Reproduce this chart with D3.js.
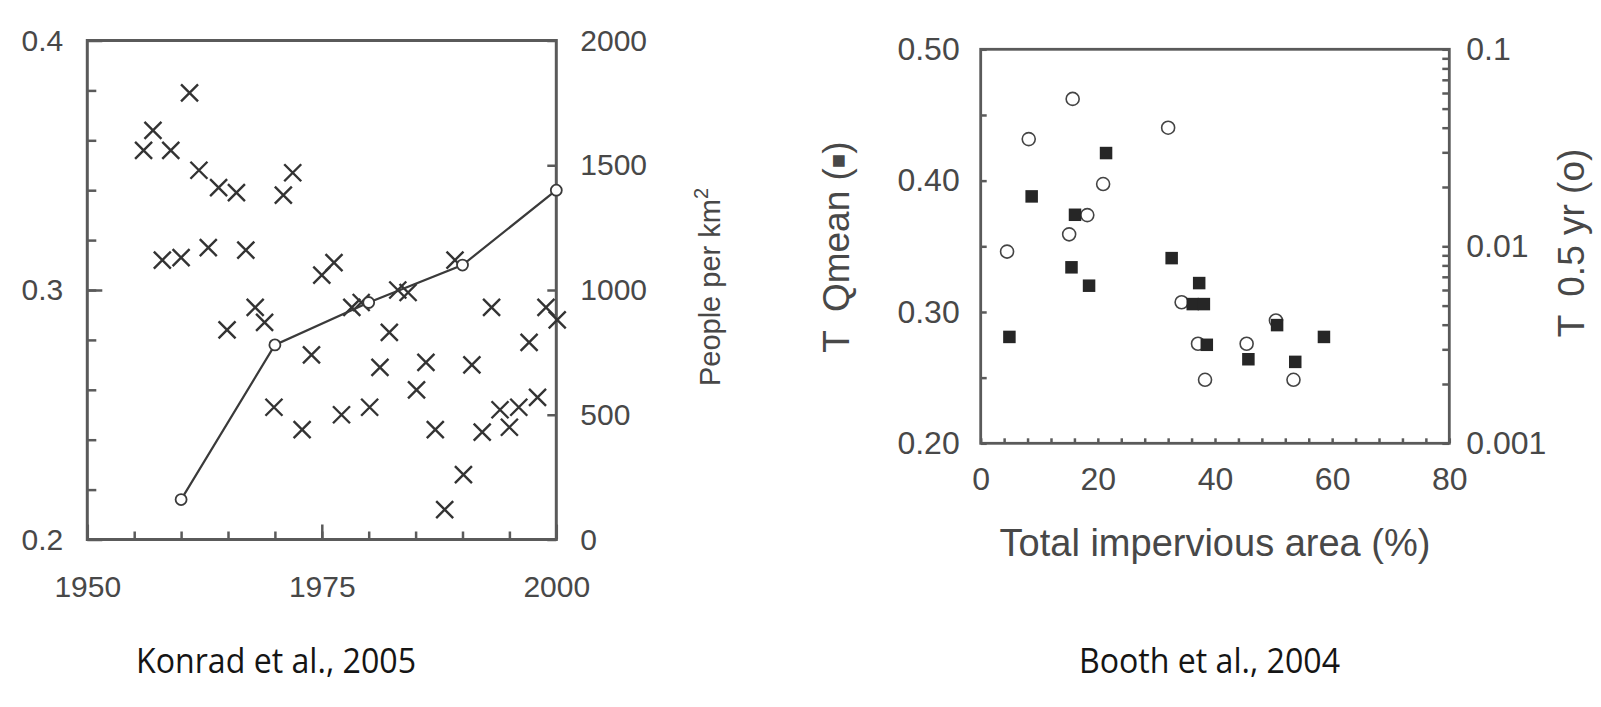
<!DOCTYPE html>
<html>
<head>
<meta charset="utf-8">
<script src="https://cdn.jsdelivr.net/npm/d3@7"></script>
<style>
  html, body { margin: 0; padding: 0; background: #fff; }
  svg { display: block; }
  .tick text { font-family: "Liberation Sans", Arial, sans-serif; fill: #484848; }
  .tick line { stroke: #5a5a5a; stroke-width: 2.5; }
  .domain { display: none; }
  .title { font-family: "Liberation Sans", Arial, sans-serif; fill: #484848; }
  .caption { font-family: "Open Sans", "Noto Sans", sans-serif; fill: #151515; font-size: 34px; }
</style>
</head>
<body>
<svg id="fig" width="1601" height="707"></svg>
<script>
// Konrad et al. 2005: yearly TQmean (crosses)
const konradYears = [1956.0, 1957.0, 1958.0, 1958.9, 1960.0, 1960.9, 1961.9, 1962.9, 1964.0, 1964.9,
  1965.9, 1966.9, 1967.9, 1968.9, 1969.9, 1970.9, 1971.9, 1972.9, 1973.9, 1975.0,
  1976.3, 1977.1, 1978.2, 1979.2, 1980.1, 1981.2, 1982.2, 1983.1, 1984.2, 1985.1,
  1986.1, 1987.1, 1988.1, 1989.2, 1990.1, 1991.0, 1992.1, 1993.1, 1994.0, 1995.0,
  1996.0, 1997.1, 1998.0, 1998.9, 2000.1];
const konradTQ = [0.356, 0.364, 0.312, 0.356, 0.313, 0.379, 0.348, 0.317, 0.341, 0.284,
  0.339, 0.316, 0.293, 0.287, 0.253, 0.338, 0.347, 0.244, 0.274, 0.306,
  0.311, 0.250, 0.293, 0.295, 0.253, 0.269, 0.283, 0.300, 0.299, 0.260,
  0.271, 0.244, 0.212, 0.312, 0.226, 0.270, 0.243, 0.293, 0.252, 0.245,
  0.253, 0.279, 0.257, 0.293, 0.288];

// population density (circles + line)
const popYears = [1960, 1970, 1980, 1990, 2000];
const popDensity = [160, 780, 950, 1100, 1400];

// Booth et al. 2004
const boothSqImp = [4.9, 8.7, 15.5, 16.1, 18.5, 21.4, 32.6, 37.3, 36.2, 38.1, 38.6, 45.7, 50.6, 53.7, 58.6];
const boothSqTQ = [0.281, 0.388, 0.334, 0.374, 0.320, 0.421, 0.341, 0.322, 0.306, 0.306, 0.275, 0.264, 0.290, 0.262, 0.281];
const boothCircImp = [4.5, 8.2, 15.7, 15.1, 18.2, 20.9, 32.0, 34.3, 37.1, 38.3, 45.4, 50.4, 53.4];
const boothCircT05 = [0.0094, 0.035, 0.056, 0.0115, 0.0144, 0.0207, 0.040, 0.0052, 0.0032, 0.0021, 0.0032, 0.0042, 0.0021];

const konradYearTicks = [1950, 1975, 2000];
const konradTQTicks = [0.2, 0.3, 0.4];
const popTicks = [0, 500, 1000, 1500, 2000];
const boothImpTicks = [0, 20, 40, 60, 80];
const boothT05Ticks = [0.001, 0.01, 0.1];

const svg = d3.select("#fig");
const frameColor = "#5a5a5a";

// ---------- Konrad et al. 2005 ----------
const L = { x0: 87.3, x1: 556.3, y0: 40.5, y1: 539.5 };
const xL = d3.scaleLinear().domain([1950, 2000]).range([L.x0, L.x1]);
const yL = d3.scaleLinear().domain([0.2, 0.4]).range([L.y1, L.y0]);
const yP = d3.scaleLinear().domain([0, 2000]).range([L.y1, L.y0]);

const gL = svg.append("g");

// minor ticks
gL.append("g").attr("transform", `translate(0,${L.y1})`)
  .call(d3.axisBottom(xL).tickValues(d3.range(1955, 2000, 5)).tickSize(-8).tickFormat(""));
gL.append("g").attr("transform", `translate(${L.x0},0)`)
  .call(d3.axisLeft(yL).tickValues(d3.range(0.22, 0.4, 0.02)).tickSize(-9).tickFormat(""));

// major ticks + labels
gL.append("g").attr("transform", `translate(0,${L.y1})`)
  .call(d3.axisBottom(xL).tickValues(konradYearTicks).tickSize(-15).tickPadding(36).tickFormat(d3.format("d")))
  .selectAll("text").style("font-size", "30px");
gL.append("g").attr("transform", `translate(${L.x0},0)`)
  .call(d3.axisLeft(yL).tickValues(konradTQTicks).tickSize(-15).tickPadding(24).tickFormat(d3.format(".1f")))
  .selectAll("text").style("font-size", "30px");
gL.append("g").attr("transform", `translate(${L.x1},0)`)
  .call(d3.axisRight(yP).tickValues(popTicks).tickSize(-9).tickPadding(24).tickFormat(d3.format("d")))
  .selectAll("text").style("font-size", "30px");

gL.append("rect")
  .attr("x", L.x0).attr("y", L.y0)
  .attr("width", L.x1 - L.x0).attr("height", L.y1 - L.y0)
  .attr("fill", "none").attr("stroke", frameColor).attr("stroke-width", 3);

// crosses
const crossArm = 8.5;
gL.append("g").selectAll("path")
  .data(konradYears.map((y, i) => [y, konradTQ[i]]))
  .enter().append("path")
  .attr("d", d => {
    const cx = xL(d[0]), cy = yL(d[1]), a = crossArm;
    return `M${cx - a},${cy - a}L${cx + a},${cy + a}M${cx - a},${cy + a}L${cx + a},${cy - a}`;
  })
  .attr("stroke", "#333").attr("stroke-width", 2.4).attr("fill", "none");

// population line
const popData = popYears.map((y, i) => [y, popDensity[i]]);
gL.append("path")
  .datum(popData)
  .attr("d", d3.line().x(d => xL(d[0])).y(d => yP(d[1])))
  .attr("fill", "none").attr("stroke", "#3a3a3a").attr("stroke-width", 2.2);
gL.append("g").selectAll("circle")
  .data(popData)
  .enter().append("circle")
  .attr("cx", d => xL(d[0])).attr("cy", d => yP(d[1])).attr("r", 5.5)
  .attr("fill", "#fff").attr("stroke", "#3a3a3a").attr("stroke-width", 1.8);

// right axis title
const pTitle = gL.append("text").attr("class", "title")
  .attr("transform", "translate(720,287) rotate(-90)")
  .attr("text-anchor", "middle").style("font-size", "29px");
pTitle.append("tspan").text("People per km");
pTitle.append("tspan").text("2").attr("dy", -12).style("font-size", "20px");

// ---------- Booth et al. 2004 ----------
const R = { x0: 980.7, x1: 1449.3, y0: 49.3, y1: 443.3 };
const xR = d3.scaleLinear().domain([0, 80]).range([R.x0, R.x1]);
const yR = d3.scaleLinear().domain([0.2, 0.5]).range([R.y1, R.y0]);
const yR2 = d3.scaleLog().domain([0.001, 0.1]).range([R.y1, R.y0]);

const gR = svg.append("g");
const near = (v, step) => Math.abs(v / step - Math.round(v / step)) < 1e-6;

gR.append("g").attr("transform", `translate(0,${R.y1})`)
  .call(d3.axisBottom(xR).tickValues(d3.range(0, 81, 4)).tickSize(-5).tickPadding(24)
    .tickFormat(d => boothImpTicks.includes(d) ? d : ""))
  .selectAll("text").style("font-size", "32px");
gR.append("g").attr("transform", `translate(${R.x0},0)`)
  .call(d3.axisLeft(yR).tickValues(d3.range(0, 7).map(i => 0.2 + i * 0.05)).tickSize(-6).tickPadding(21)
    .tickFormat(d => near(d, 0.1) ? d3.format(".2f")(d) : ""))
  .selectAll("text").style("font-size", "32px");
gR.append("g").attr("transform", `translate(${R.x1},0)`)
  .call(d3.axisRight(yR2).tickValues(yR2.ticks()).tickSize(-7).tickPadding(17)
    .tickFormat(d => boothT05Ticks.some(t => Math.abs(t - d) < 1e-9) ? String(d) : ""))
  .selectAll("text").style("font-size", "32px");

gR.append("rect")
  .attr("x", R.x0).attr("y", R.y0)
  .attr("width", R.x1 - R.x0).attr("height", R.y1 - R.y0)
  .attr("fill", "none").attr("stroke", frameColor).attr("stroke-width", 2.8);

// open circles (T 0.5 yr, log axis)
gR.append("g").selectAll("circle")
  .data(boothCircImp.map((x, i) => [x, boothCircT05[i]]))
  .enter().append("circle")
  .attr("cx", d => xR(d[0])).attr("cy", d => yR2(d[1])).attr("r", 6.5)
  .attr("fill", "#fff").attr("stroke", "#444").attr("stroke-width", 1.6);

// filled squares (TQmean)
const sq = 12.5;
gR.append("g").selectAll("rect")
  .data(boothSqImp.map((x, i) => [x, boothSqTQ[i]]))
  .enter().append("rect")
  .attr("x", d => xR(d[0]) - sq / 2).attr("y", d => yR(d[1]) - sq / 2)
  .attr("width", sq).attr("height", sq)
  .attr("fill", "#262626");

gR.append("text").attr("class", "title")
  .attr("x", (R.x0 + R.x1) / 2).attr("y", 556)
  .attr("text-anchor", "middle").style("font-size", "38px")
  .text("Total impervious area (%)");

const lTitle = gR.append("text").attr("class", "title")
  .attr("transform", "translate(849,247) rotate(-90)")
  .attr("text-anchor", "middle").style("font-size", "37px");
lTitle.append("tspan").text("T");
lTitle.append("tspan").attr("dx", 18).text("Qmean (");
lTitle.append("tspan").style("font-size", "24px").attr("dy", -3).text("■");
lTitle.append("tspan").attr("dy", 3).text(")");

const rTitle = gR.append("text").attr("class", "title")
  .attr("transform", "translate(1584,243) rotate(-90)")
  .attr("text-anchor", "middle").style("font-size", "37px");
rTitle.append("tspan").text("T");
rTitle.append("tspan").attr("dx", 18).text("0.5 yr (o)");

// captions
svg.append("text").attr("class", "caption")
  .attr("x", 136).attr("y", 673)
  .attr("textLength", 280).attr("lengthAdjust", "spacingAndGlyphs")
  .text("Konrad et al., 2005");
svg.append("text").attr("class", "caption")
  .attr("x", 1079).attr("y", 673)
  .attr("textLength", 261).attr("lengthAdjust", "spacingAndGlyphs")
  .text("Booth et al., 2004");
</script>
</body>
</html>
